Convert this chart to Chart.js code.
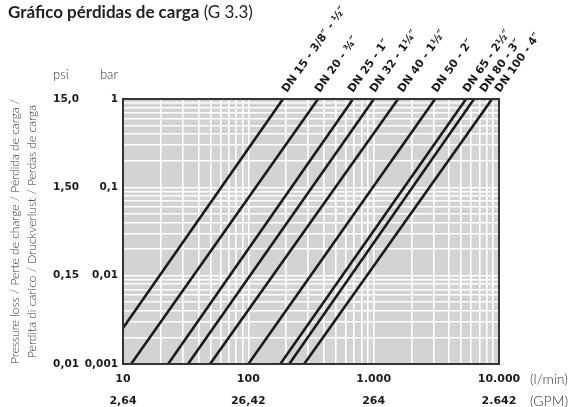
<!DOCTYPE html>
<html>
<head>
<meta charset="utf-8">
<script src="https://cdn.jsdelivr.net/npm/chart.js@4"></script>
<style>
  body { margin: 0; background: #fff; }
  #wrap { position: relative; width: 586px; height: 407px; }
  #title { position: absolute; left: 8px; top: 1px; font-family: Lato, sans-serif; font-size: 17px; color: #222; white-space: nowrap; }
  #title b { font-weight: 700; }
</style>
</head>
<body>
<div id="wrap">
  <div id="title"><b>Gráfico pérdidas de carga</b> (G 3.3)</div>
  <canvas id="myChart" width="586" height="407"></canvas>
</div>
<script>
// pipe sizes, one straight line each on the log-log grid
const sizes = ['DN 15 - 3/8″ - ½″', 'DN 20 - ¾″', 'DN 25 - 1″', 'DN 32 - 1¼″', 'DN 40 - 1½″',
               'DN 50 - 2″', 'DN 65 - 2½″', 'DN 80 - 3″', 'DN 100 - 4″'];
// flow (l/min) where each line starts and ends
const flowStart = [10, 11.6, 22.9, 33, 49.5, 100, 180, 212, 279];
const flowEnd   = [189, 360, 685, 1005, 1566, 3090, 5460, 6320, 8810];
// pressure loss (bar) at those flows
const lossStart = [0.00255, 0.001, 0.001, 0.001, 0.001, 0.001, 0.001, 0.001, 0.001];
const lossEnd   = [1, 1, 1, 1, 1, 1, 1, 1, 1];

// axis labels
const flowTicks = [10, 100, 1000, 10000];
const lminLabels = ['10', '100', '1.000', '10.000'];
const gpmLabels = ['2,64', '26,42', '264', '2.642'];
const barTicks = [1, 0.1, 0.01, 0.001];
const barLabels = ['1', '0,1', '0,01', '0,001'];
const psiLabels = ['15,0', '1,50', '0,15', '0,01'];
const yTitle = ['Pressure loss / Perte de charge / Pérdida de carga /',
                'Perdita di carico / Druckverlust / Perdas de carga'];

const tickFont = { family: 'DejaVu Sans', weight: 'bold', size: 11 };
const yTickFont = { family: 'DejaVu Sans', weight: 'bold', size: 10.5 };

// sideways shift of each size name so the crowded ones stay apart
const labelNudge = [4, 2, 0, 1, 5, 2, 2, 11, 8];

const findTick = (list, v) => list.findIndex(t => Math.abs(Math.log10(t) - Math.log10(v)) < 1e-6);

// log grid: 1..9 in every decade
const logGrid = (min, max) => {
    let out = [];
    for (let e = Math.round(Math.log10(min)); e < Math.round(Math.log10(max)); e++) {
        for (let k = 1; k < 10; k++) out.push(Number((k * Math.pow(10, e)).toPrecision(3)));
    }
    out.push(max);
    return out.map(v => ({ value: v }));
};

const datasets = sizes.map((s, i) => ({
    label: s,
    data: [{ x: flowStart[i], y: lossStart[i] }, { x: flowEnd[i], y: lossEnd[i] }],
    showLine: true,
    borderColor: '#1b1b1b',
    borderWidth: 2.6,
    pointRadius: 0,
    fill: false
}));

const decor = {
    id: 'decor',
    beforeDraw(chart) {
        const { ctx, chartArea: a } = chart;
        ctx.save();
        ctx.fillStyle = '#d3d3d3';
        ctx.fillRect(a.left, a.top, a.right - a.left, a.bottom - a.top);
        ctx.restore();
    },
    afterDraw(chart) {
        const { ctx, chartArea: a } = chart;
        ctx.save();
        ctx.strokeStyle = '#333';
        ctx.lineWidth = 2;
        ctx.strokeRect(a.left, a.top, a.right - a.left, a.bottom - a.top);

        // size names along the lines, above the top edge
        ctx.fillStyle = '#1b1b1b';
        ctx.font = 'bold 11px "DejaVu Sans"';
        ctx.textAlign = 'left';
        ctx.textBaseline = 'alphabetic';
        chart.data.datasets.forEach((ds, i) => {
            const p = chart.getDatasetMeta(i).data[1];
            ctx.save();
            ctx.translate(p.x + labelNudge[i], p.y - 6);
            ctx.rotate(-54.7 * Math.PI / 180);
            ctx.fillText(ds.label, 0, 0);
            ctx.restore();
        });

        // unit headers
        const yb = chart.scales.y, yp = chart.scales.psi, xs = chart.scales.x;
        ctx.font = '300 13px Lato';
        ctx.fillStyle = '#333';
        ctx.textBaseline = 'middle';
        ctx.textAlign = 'right';
        ctx.fillText('bar', yb.right - yb.options.ticks.padding, a.top - 24);
        ctx.font = 'bold 10.5px "DejaVu Sans"';
        const widest = Math.max(...psiLabels.map(l => ctx.measureText(l).width));
        ctx.font = '300 13px Lato';
        ctx.textAlign = 'left';
        ctx.fillText('psi', yp.right - yp.options.ticks.padding - widest, a.top - 24);
        ctx.font = '300 14px Lato';
        ctx.fillText('(l/min)', a.right + 31, xs.top + 15);
        ctx.fillText('(GPM)', a.right + 31, xs.top + 37);
        ctx.restore();
    }
};

new Chart(document.getElementById('myChart'), {
    type: 'scatter',
    data: { datasets },
    options: {
        responsive: false,
        animation: false,
        layout: { padding: { top: 99, right: 87, left: 0, bottom: 0 } },
        plugins: { legend: { display: false }, tooltip: { enabled: false } },
        scales: {
            x: {
                type: 'logarithmic',
                min: 10, max: 10000,
                afterBuildTicks: s => { s.ticks = logGrid(10, 10000); },
                afterFit: s => { s.height = 43; },
                grid: { color: '#fff', lineWidth: 1.6, drawTicks: false },
                border: { display: false },
                ticks: {
                    autoSkip: false, maxRotation: 0, padding: 4,
                    color: '#1b1b1b',
                    font: { ...tickFont, lineHeight: 2 },
                    callback: v => {
                        const i = findTick(flowTicks, v);
                        return i < 0 ? '' : [lminLabels[i], gpmLabels[i]];
                    }
                }
            },
            y: {
                type: 'logarithmic',
                min: 0.001, max: 1,
                weight: 0,
                afterBuildTicks: s => { s.ticks = logGrid(0.001, 1); },
                afterFit: s => { s.width = 43; },
                grid: { color: '#fff', lineWidth: 1.6, drawTicks: false },
                border: { display: false },
                ticks: {
                    autoSkip: false, padding: 5, color: '#1b1b1b', font: yTickFont,
                    callback: v => {
                        const i = findTick(barTicks, v);
                        return i < 0 ? '' : barLabels[i];
                    }
                }
            },
            psi: {
                type: 'logarithmic',
                position: 'left',
                min: 0.001, max: 1,
                weight: 1,
                afterBuildTicks: s => { s.ticks = barTicks.map(v => ({ value: v })); },
                afterFit: s => { s.width = 80; },
                grid: { display: false, drawTicks: false },
                border: { display: false },
                title: {
                    display: true,
                    text: yTitle,
                    color: '#333',
                    font: { family: 'Lato', weight: 300, size: 12, lineHeight: 1.45 },
                    padding: { top: 6, bottom: 0 }
                },
                ticks: {
                    autoSkip: false, padding: 1, color: '#1b1b1b', font: yTickFont,
                    callback: v => {
                        const i = findTick(barTicks, v);
                        return i < 0 ? '' : psiLabels[i];
                    }
                }
            }
        }
    },
    plugins: [decor]
});
</script>
</body>
</html>
